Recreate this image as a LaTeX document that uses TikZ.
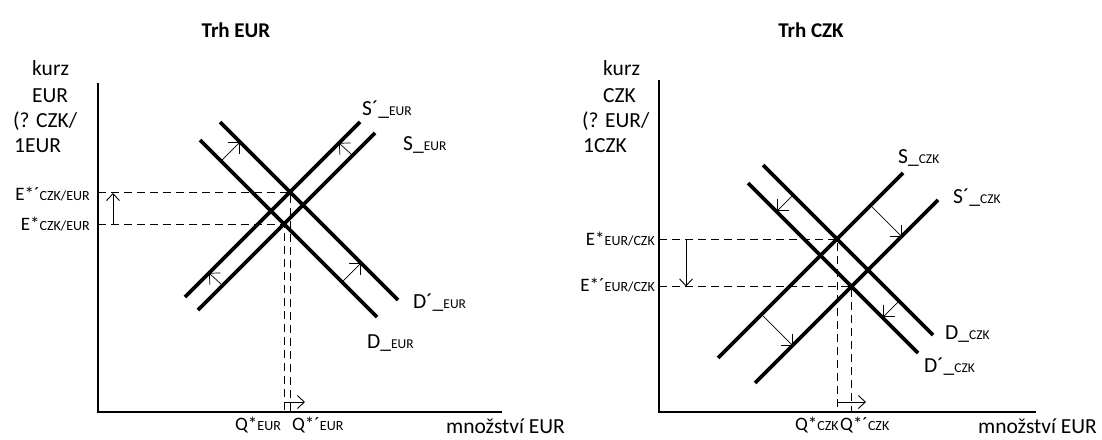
\documentclass[tikz,border=0pt]{standalone}
\usepackage{fontspec}
\setmainfont{Carlito}
\usetikzlibrary{arrows.meta}
\newcommand{\sbs}[1]{{\fontsize{13.5}{14}\selectfont #1}}
\newcommand{\sbe}[1]{{\fontsize{14}{15}\selectfont #1}}
\begin{document}
\begin{tikzpicture}[x=1pt,y=-1pt,
  curve/.style={line width=3.6pt},
  axisline/.style={line width=1.2pt},
  guide/.style={dash pattern=on 8pt off 5pt, line width=0.9pt},
  shiftarrow/.style={line width=0.7pt, -{Straight Barb[length=8pt,width=16pt,line width=0.7pt]}},
  movearrow/.style={line width=0.9pt, -{Straight Barb[length=7pt,width=13pt,line width=0.9pt]}},
  txt/.style={inner sep=0pt, font=\fontsize{21.5}{24}\selectfont},
  eqlbl/.style={inner sep=0pt, font=\fontsize{19}{22}\selectfont},
  ttl/.style={inner sep=0pt, font=\fontsize{21}{24}\selectfont\bfseries}
]
\useasboundingbox (0,0) rectangle (1102,439);

% ---------------- Left panel: Trh EUR ----------------
\node[ttl] (t1) at (236,30) {Trh EUR};
\coordinate (ay1) at (98,83);
\coordinate (o1) at (98,412);
\coordinate (ax1) at (502,412);
\draw[axisline] (ay1) -- (o1) -- (ax1);

\node[txt, anchor=base west] (k1a) at (32,75) {kurz};
\node[txt, anchor=base west] (k1b) at (32,102) {EUR};
\node[txt, anchor=base west] (k1c) at (13,127) {(? CZK/};
\node[txt, anchor=base west] (k1d) at (14,152) {1EUR};

\coordinate (D1a) at (200,140);  \coordinate (D1b) at (377,317);
\coordinate (Dp1a) at (220,122); \coordinate (Dp1b) at (398,300);
\coordinate (S1a) at (198,310);  \coordinate (S1b) at (375,133);
\coordinate (Sp1a) at (185,297); \coordinate (Sp1b) at (360,122);
\coordinate (E1) at (284,224);
\coordinate (Ep1) at (290,192);
\coordinate (yE1) at (98,224);  \coordinate (yEp1) at (98,192);
\coordinate (xE1) at (284,412); \coordinate (xEp1) at (290,412);

\draw[guide] (yEp1) -- (Ep1) -- (xEp1);
\draw[guide] (yE1) -- (E1) -- (xE1);

\draw[curve] (D1a) -- (D1b);
\draw[curve] (Dp1a) -- (Dp1b);
\draw[curve] (S1a) -- (S1b);
\draw[curve] (Sp1a) -- (Sp1b);

\coordinate (a1s) at (222,160); \coordinate (a1e) at (240,142);
\coordinate (a2s) at (352,155); \coordinate (a2e) at (339,143);
\coordinate (a3s) at (222,285); \coordinate (a3e) at (209,273);
\coordinate (a4s) at (343,281); \coordinate (a4e) at (361,263);
\draw[shiftarrow] (a1s) -- (a1e);
\draw[shiftarrow] (a2s) -- (a2e);
\draw[shiftarrow] (a3s) -- (a3e);
\draw[shiftarrow] (a4s) -- (a4e);

\coordinate (v1s) at (113,224); \coordinate (v1e) at (113,193);
\draw[movearrow] (v1s) -- (v1e);
\coordinate (h1s) at (284,402); \coordinate (h1e) at (305,402);
\draw[movearrow] (h1s) -- (h1e);

\node[txt, anchor=base west] (lSp1) at (362,115) {S´\_\sbs{EUR}};
\node[txt, anchor=base west] (lS1) at (403,150) {S\_\sbs{EUR}};
\node[txt, anchor=base west] (lDp1) at (413,308) {D´\_\sbs{EUR}};
\node[txt, anchor=base west] (lD1) at (367,348) {D\_\sbs{EUR}};

\node[eqlbl, anchor=base east] (lEp1) at (90,200) {E*´\sbe{CZK/EUR}};
\node[eqlbl, anchor=base east] (lE1) at (90,230) {E*\sbe{CZK/EUR}};

\node[eqlbl, anchor=base west] (lQ1) at (235,430) {Q*\sbe{EUR}};
\node[eqlbl, anchor=base west] (lQp1) at (292,430) {Q*´\sbe{EUR}};
\node[txt, anchor=base west] (lx1) at (446,433) {množství EUR};

% ---------------- Right panel: Trh CZK ----------------
\node[ttl] (t2) at (811,30) {Trh CZK};
\coordinate (ay2) at (659,80);
\coordinate (o2) at (659,412);
\coordinate (ax2) at (1036,412);
\draw[axisline] (ay2) -- (o2) -- (ax2);

\node[txt, anchor=base west] (k2a) at (603,75) {kurz};
\node[txt, anchor=base west] (k2b) at (603,102) {CZK};
\node[txt, anchor=base west] (k2c) at (582,127) {(? EUR/};
\node[txt, anchor=base west] (k2d) at (583,152) {1CZK};

\coordinate (D2a) at (763,165);  \coordinate (D2b) at (933,335);
\coordinate (Dp2a) at (748,183); \coordinate (Dp2b) at (918,353);
\coordinate (S2a) at (718,358);  \coordinate (S2b) at (903,173);
\coordinate (Sp2a) at (755,383); \coordinate (Sp2b) at (938,200);
\coordinate (E2) at (837,239);
\coordinate (Ep2) at (851.5,286.5);
\coordinate (yE2) at (659,239);  \coordinate (yEp2) at (659,286.5);
\coordinate (xE2) at (837,412);  \coordinate (xEp2) at (851.5,412);

\draw[guide] (yE2) -- (E2) -- (xE2);
\draw[guide] (yEp2) -- (Ep2) -- (xEp2);

\draw[curve] (D2a) -- (D2b);
\draw[curve] (Dp2a) -- (Dp2b);
\draw[curve] (S2a) -- (S2b);
\draw[curve] (Sp2a) -- (Sp2b);

\coordinate (b1s) at (792,196); \coordinate (b1e) at (777,211);
\coordinate (b2s) at (898,302); \coordinate (b2e) at (883,317);
\coordinate (b3s) at (872,207); \coordinate (b3e) at (902,237);
\coordinate (b4s) at (763,316); \coordinate (b4e) at (793,346);
\draw[shiftarrow] (b1s) -- (b1e);
\draw[shiftarrow] (b2s) -- (b2e);
\draw[shiftarrow] (b3s) -- (b3e);
\draw[shiftarrow] (b4s) -- (b4e);

\coordinate (v2s) at (686,239); \coordinate (v2e) at (686,286.5);
\draw[movearrow] (v2s) -- (v2e);
\coordinate (h2s) at (837,402); \coordinate (h2e) at (866,402);
\draw[movearrow] (h2s) -- (h2e);

\node[txt, anchor=base west] (lS2) at (898,163) {S\_\sbs{CZK}};
\node[txt, anchor=base west] (lSp2) at (953,203) {S´\_\sbs{CZK}};
\node[txt, anchor=base west] (lD2) at (945,339) {D\_\sbs{CZK}};
\node[txt, anchor=base west] (lDp2) at (924,372) {D´\_\sbs{CZK}};

\node[eqlbl, anchor=base east] (lE2) at (655,245) {E*\sbe{EUR/CZK}};
\node[eqlbl, anchor=base east] (lEp2) at (655,291) {E*´\sbe{EUR/CZK}};

\node[eqlbl, anchor=base west] (lQ2) at (795,430) {Q*\sbe{CZK}};
\node[eqlbl, anchor=base west] (lQp2) at (840,430) {Q*´\sbe{CZK}};
\node[txt, anchor=base west] (lx2) at (978,433) {množství EUR};
\end{tikzpicture}
\end{document}
